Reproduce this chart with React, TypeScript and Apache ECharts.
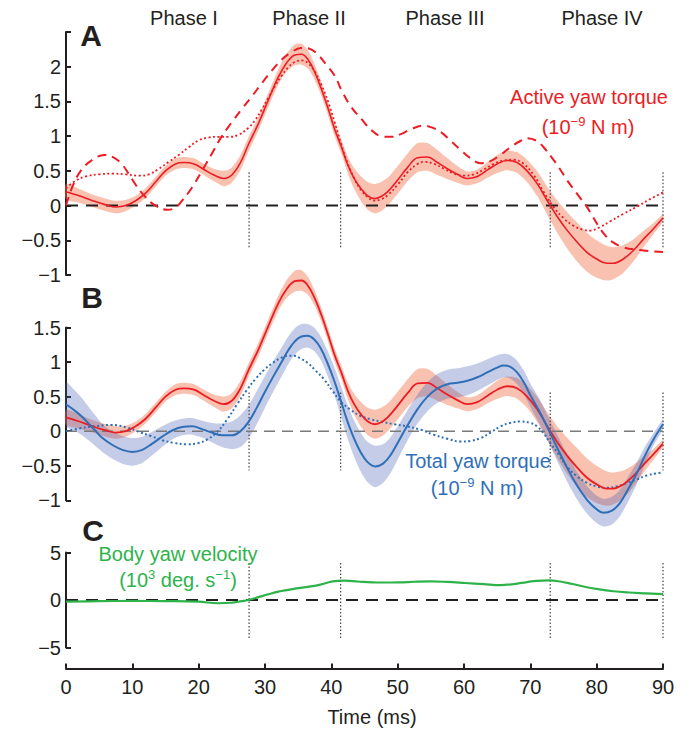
import React, { useEffect, useRef } from "react";
import * as echarts from "echarts";

// ---------- data ----------
const timeTicks = [0, 10, 20, 30, 40, 50, 60, 70, 80, 90];
const phaseLabels = ["Phase I", "Phase II", "Phase III", "Phase IV"];
const phaseBounds = [27.6, 41.4, 73.0, 90.0];
const guideA = [0.48, -0.62];
const guideB = [0.56, -0.57];
const guideC = [3.9, -4.1];

// Active yaw torque: mean (solid) and its spread (shaded band)
const activeT = [0, 2, 4, 6, 7.5, 9, 10.5, 12, 13.5, 15, 16.5, 17.8, 19.3, 20.8, 22.3, 23.8, 25, 26.3, 27.5, 29, 30.5, 32, 33.3, 34.5, 35.5, 36.5, 37.5, 38.5, 39.5, 40.5, 41.5, 42.5, 43.5, 44.5, 45.5, 46.5, 47.5, 48.5, 50, 51.5, 53, 54.5, 56, 57.5, 59, 60.5, 62, 63.5, 65, 66.5, 68, 69.5, 71, 72.5, 74, 75.5, 77, 78.5, 80, 81.5, 82.5, 84, 85.5, 87, 88.5, 90];
const activeMean = [0.2, 0.14, 0.07, 0.01, -0.02, 0.0, 0.07, 0.18, 0.34, 0.5, 0.6, 0.62, 0.6, 0.52, 0.44, 0.39, 0.44, 0.62, 0.88, 1.18, 1.52, 1.85, 2.06, 2.17, 2.18, 2.1, 1.92, 1.68, 1.4, 1.1, 0.85, 0.58, 0.38, 0.24, 0.14, 0.1, 0.13, 0.2, 0.37, 0.55, 0.69, 0.7, 0.62, 0.53, 0.45, 0.39, 0.42, 0.51, 0.6, 0.65, 0.62, 0.5, 0.32, 0.08, -0.15, -0.35, -0.52, -0.67, -0.77, -0.83, -0.83, -0.77, -0.65, -0.49, -0.34, -0.18];
const activeSd = [0.11, 0.1, 0.09, 0.09, 0.09, 0.08, 0.07, 0.07, 0.07, 0.07, 0.08, 0.08, 0.08, 0.08, 0.09, 0.11, 0.11, 0.11, 0.1, 0.1, 0.1, 0.11, 0.13, 0.15, 0.15, 0.13, 0.11, 0.1, 0.1, 0.1, 0.1, 0.12, 0.15, 0.18, 0.2, 0.21, 0.21, 0.2, 0.2, 0.2, 0.21, 0.2, 0.18, 0.15, 0.12, 0.1, 0.1, 0.11, 0.13, 0.14, 0.15, 0.16, 0.18, 0.2, 0.23, 0.26, 0.28, 0.28, 0.27, 0.25, 0.23, 0.2, 0.16, 0.12, 0.08, 0.05];

// Active yaw torque, dashed curve
const activeDashT = [0, 1, 2.3, 4, 5.8, 7, 8.3, 9.5, 10.5, 12, 13.5, 15.3, 16.5, 17.5, 19, 20.5, 22, 23.5, 25, 26.5, 28, 29.5, 31, 32.5, 34, 35.4, 36.7, 38, 39.3, 40.5, 41.7, 43, 44.5, 46, 47.5, 49, 50.5, 52, 53.8, 55, 56.5, 58, 59.5, 61, 62.5, 64, 65.5, 67, 68.5, 69.5, 71, 72, 73.1, 74.3, 75.5, 76.5, 77.5, 78.4, 79.3, 80.3, 81.3, 82.3, 84, 86.5, 90];
const activeDash = [0.0, 0.28, 0.51, 0.66, 0.73, 0.7, 0.61, 0.45, 0.3, 0.12, 0.0, -0.06, -0.03, 0.07, 0.26, 0.5, 0.75, 1.0, 1.2, 1.39, 1.57, 1.76, 1.94, 2.1, 2.21, 2.27, 2.26, 2.17, 2.02, 1.87, 1.63, 1.42, 1.25, 1.09, 1.0, 0.99, 1.03, 1.1, 1.15, 1.13, 1.06, 0.93, 0.8, 0.68, 0.61, 0.64, 0.73, 0.84, 0.93, 0.97, 0.93, 0.84, 0.71, 0.55, 0.37, 0.24, 0.11, 0.0, -0.14, -0.3, -0.43, -0.52, -0.6, -0.64, -0.67];

// Active yaw torque, dotted curve
const activeDotT = [0, 1.5, 3, 5, 7, 9, 11, 12.5, 14, 15.5, 17, 18.5, 20, 21.5, 23, 24.5, 26, 27.5, 28.5, 29.5, 30.5, 31.5, 32.5, 33.5, 34.5, 35.5, 36.5, 37.5, 38.5, 39.5, 40.5, 41.5, 42.5, 43.5, 44.5, 45.5, 46.5, 47.5, 48.5, 50, 51.5, 53, 54, 55.5, 57, 58.5, 60, 61.5, 63, 64.5, 66, 67.5, 69, 70.5, 72, 73.5, 75, 76.5, 78, 79, 80.5, 82, 84, 86, 88, 90];
const activeDot = [0.25, 0.36, 0.42, 0.45, 0.46, 0.45, 0.43, 0.45, 0.53, 0.63, 0.73, 0.84, 0.94, 0.98, 0.99, 0.99, 1.02, 1.12, 1.23, 1.38, 1.55, 1.72, 1.87, 1.99, 2.07, 2.09, 2.05, 1.93, 1.74, 1.5, 1.2, 0.88, 0.6, 0.38, 0.22, 0.12, 0.07, 0.09, 0.15, 0.3, 0.48, 0.6, 0.63, 0.6, 0.53, 0.46, 0.43, 0.45, 0.52, 0.6, 0.65, 0.66, 0.6, 0.44, 0.2, -0.02, -0.18, -0.29, -0.35, -0.36, -0.31, -0.23, -0.12, -0.02, 0.09, 0.19];

// Total yaw torque: mean (solid) and spread (band)
const totalT = [0, 1, 2.3, 3.5, 4.5, 5.5, 7, 8.5, 10, 11.5, 13, 14.5, 16, 17.5, 19, 20.5, 22, 23.5, 25, 26.3, 27.5, 28.7, 30, 31.3, 32.5, 33.5, 34.5, 35.5, 36.4, 37.4, 38.4, 39.4, 40.4, 41.4, 42.4, 43.4, 44.4, 45.4, 46.6, 47.8, 48.9, 50, 51.4, 53, 54.5, 56, 57.5, 59, 60.5, 62, 63.5, 65, 66, 67, 68, 69, 70, 71.3, 72.5, 74, 75.5, 77, 78.6, 80, 81, 82.3, 83.5, 84.8, 86, 87.3, 88.5, 90];
const totalMean = [0.39, 0.32, 0.22, 0.1, 0.0, -0.1, -0.2, -0.27, -0.3, -0.27, -0.18, -0.08, 0.01, 0.06, 0.07, 0.03, -0.02, -0.06, -0.06, 0.0, 0.13, 0.33, 0.57, 0.8, 1.0, 1.17, 1.3, 1.37, 1.38, 1.33, 1.2, 0.99, 0.74, 0.45, 0.15, -0.1, -0.3, -0.44, -0.51, -0.47, -0.35, -0.17, 0.07, 0.32, 0.5, 0.62, 0.68, 0.7, 0.73, 0.78, 0.85, 0.92, 0.95, 0.93, 0.85, 0.71, 0.52, 0.3, 0.07, -0.23, -0.52, -0.78, -1.0, -1.13, -1.18, -1.15, -1.04, -0.83, -0.62, -0.35, -0.13, 0.1];
const totalSd = [0.32, 0.3, 0.27, 0.24, 0.22, 0.2, 0.2, 0.2, 0.2, 0.19, 0.17, 0.15, 0.13, 0.12, 0.12, 0.12, 0.14, 0.17, 0.2, 0.23, 0.24, 0.24, 0.23, 0.22, 0.21, 0.2, 0.19, 0.18, 0.17, 0.17, 0.17, 0.18, 0.2, 0.22, 0.24, 0.26, 0.28, 0.29, 0.3, 0.28, 0.26, 0.24, 0.22, 0.21, 0.21, 0.21, 0.21, 0.21, 0.21, 0.2, 0.19, 0.18, 0.17, 0.17, 0.17, 0.17, 0.17, 0.18, 0.18, 0.19, 0.2, 0.2, 0.2, 0.2, 0.2, 0.2, 0.19, 0.18, 0.16, 0.13, 0.09, 0.06];

// Total yaw torque, dotted curve
const totalDotT = [0, 2, 4.3, 6.8, 9.3, 11, 12.8, 14.5, 16.3, 18.3, 20, 21.3, 22.8, 24.3, 25.8, 27.3, 28.6, 29.9, 31.2, 32.4, 33.4, 34.4, 35.4, 36.4, 37.6, 38.9, 40.2, 41.4, 42.9, 44.4, 46, 47.4, 49.5, 51.4, 53.5, 55.4, 57.5, 59.5, 61, 62.5, 64, 65.5, 67, 68.5, 70, 71, 72, 73, 74.3, 75.5, 77, 78.6, 80, 81.6, 83, 84.6, 86, 87.6, 89, 90];
const totalDot = [0.0, 0.04, 0.07, 0.09, 0.05, -0.01, -0.07, -0.13, -0.17, -0.19, -0.17, -0.12, -0.01, 0.17, 0.39, 0.6, 0.76, 0.89, 0.99, 1.06, 1.09, 1.09, 1.05, 0.99, 0.88, 0.75, 0.58, 0.43, 0.31, 0.22, 0.17, 0.14, 0.1, 0.07, 0.02, -0.05, -0.11, -0.15, -0.14, -0.1, -0.02, 0.07, 0.12, 0.14, 0.12, 0.07, -0.03, -0.17, -0.34, -0.51, -0.65, -0.75, -0.8, -0.82, -0.8, -0.75, -0.7, -0.64, -0.61, -0.6];

// Body yaw velocity
const bodyT = [0, 5, 10, 15, 20, 22.9, 24.9, 26.5, 27.5, 29, 30.5, 32, 33.5, 35, 36.9, 38.5, 40.2, 42, 44, 46.2, 48, 50.2, 52.5, 54.9, 57.5, 60.2, 63, 65.5, 67.5, 69.5, 71, 72.8, 74.5, 76.2, 78, 80.2, 82.5, 84.9, 87.5, 90];
const bodyVel = [-0.18, -0.12, -0.1, -0.12, -0.18, -0.34, -0.29, -0.12, 0.0, 0.3, 0.6, 0.88, 1.07, 1.25, 1.43, 1.65, 1.96, 2.04, 1.95, 1.86, 1.84, 1.86, 1.92, 1.96, 1.9, 1.79, 1.67, 1.57, 1.68, 1.89, 2.02, 2.07, 1.95, 1.71, 1.42, 1.14, 0.92, 0.79, 0.7, 0.61];

// ---------- styling ----------
const FONT = "'Liberation Sans', Arial, Helvetica, sans-serif";
const INK = "#231f20";
const RED = "#ed1c24";
const BLUE = "#2f6fb7";
const GREEN = "#2db34a";
const RED_BAND = "rgba(241,120,80,0.45)";
const BLUE_BAND = "rgba(60,85,180,0.30)";

const zip = (t: number[], v: number[]) => t.map((x, i) => [x, v[i]]);

const fmt = (hide?: number) => (v: number) =>
  v === hide ? "" : String(v).replace("-", "\u2212");

function band(t: number[], mean: number[], sd: number[], idx: number, color: string) {
  return {
    type: "custom",
    coordinateSystem: "cartesian2d",
    xAxisIndex: idx,
    yAxisIndex: idx,
    data: [[t[0], mean[0]]],
    silent: true,
    clip: false,
    z: 1,
    renderItem: (params: any, api: any) => {
      if (params.dataIndex !== 0) return null;
      const up = t.map((x, i) => api.coord([x, mean[i] + sd[i]]));
      const lo = t.map((x, i) => api.coord([x, mean[i] - sd[i]])).reverse();
      return {
        type: "polygon",
        shape: { points: up.concat(lo), smooth: 0.25 },
        style: { fill: color, stroke: "none" },
      };
    },
  };
}

function curve(t: number[], v: number[], idx: number, color: string, width: number, type: any) {
  return {
    type: "line",
    xAxisIndex: idx,
    yAxisIndex: idx,
    data: zip(t, v),
    symbol: "none",
    smooth: 0.4,
    silent: true,
    clip: false,
    lineStyle: { color, width, type, cap: "butt" },
    z: 4,
  };
}

function zeroLine(idx: number, color: string, width: number, dash: number[]) {
  return {
    type: "line",
    xAxisIndex: idx,
    yAxisIndex: idx,
    data: [[0, 0], [90, 0]],
    symbol: "none",
    silent: true,
    lineStyle: { color, width, type: dash },
    z: 3,
  };
}

function guides(idx: number, ext: number[]) {
  return phaseBounds.map((b) => ({
    type: "line",
    xAxisIndex: idx,
    yAxisIndex: idx,
    data: [[b, ext[0]], [b, ext[1]]],
    symbol: "none",
    silent: true,
    lineStyle: { color: "#444", width: 1.2, type: [1.5, 2] },
    z: 2,
  }));
}

function yAxis(idx: number, min: number, max: number, interval: number, hide?: number) {
  return {
    gridIndex: idx,
    type: "value",
    min,
    max,
    interval,
    axisLine: { show: true, onZero: false, lineStyle: { color: INK, width: 2 } },
    axisTick: { show: true, inside: true, length: 5, lineStyle: { color: INK, width: 2 } },
    axisLabel: { formatter: fmt(hide), fontSize: 20, color: INK, margin: 5, fontFamily: FONT },
    splitLine: { show: false },
  };
}

const richUnits = {
  a: { fontSize: 20, lineHeight: 24, fontFamily: FONT },
  s: { fontSize: 13, lineHeight: 14, verticalAlign: "top", fontFamily: FONT },
};

function txt(x: number, y: number, text: string, color: string, size = 20, weight = "normal", rich?: any) {
  return {
    type: "text",
    x,
    y,
    silent: true,
    z: 10,
    style: {
      text,
      fill: color,
      fontSize: size,
      fontWeight: weight,
      fontFamily: FONT,
      align: "center",
      verticalAlign: "middle",
      ...(rich ? { rich } : {}),
    },
  };
}

const phaseX = [184, 309, 445, 602];

export default function App() {
  const ref = useRef<HTMLDivElement>(null);
  useEffect(() => {
    if (!ref.current) return;
    const chart = echarts.init(ref.current, undefined, { renderer: "svg" });
    const option: any = {
      animation: false,
      backgroundColor: "#ffffff",
      grid: [
        { left: 66, width: 597, top: 32, height: 243 },
        { left: 66, width: 597, top: 327.5, height: 172.8 },
        { left: 66, width: 597, top: 552.5, height: 95 },
      ],
      xAxis: [
        { gridIndex: 0, type: "value", min: 0, max: 90, show: false },
        { gridIndex: 1, type: "value", min: 0, max: 90, show: false },
        {
          gridIndex: 2,
          type: "value",
          min: timeTicks[0],
          max: timeTicks[timeTicks.length - 1],
          interval: 10,
          offset: 21,
          axisLine: { show: true, onZero: false, lineStyle: { color: INK, width: 2 } },
          axisTick: { show: true, inside: true, length: 5, lineStyle: { color: INK, width: 2 } },
          axisLabel: { fontSize: 20, color: INK, margin: 8, fontFamily: FONT },
          splitLine: { show: false },
        },
      ],
      yAxis: [
        yAxis(0, -1, 2.5, 0.5, 2.5),
        yAxis(1, -1, 1.5, 0.5),
        yAxis(2, -5, 5, 5),
      ],
      series: [
        band(activeT, activeMean, activeSd, 0, RED_BAND),
        band(activeT, activeMean, activeSd, 1, RED_BAND),
        band(totalT, totalMean, totalSd, 1, BLUE_BAND),
        zeroLine(0, INK, 2, [12, 8]),
        zeroLine(1, "#7a7a7a", 1.6, [11, 7]),
        zeroLine(2, INK, 2, [12, 8]),
        ...guides(0, guideA),
        ...guides(1, guideB),
        ...guides(2, guideC),
        curve(activeDashT, activeDash, 0, RED, 2, [9, 6]),
        curve(activeDotT, activeDot, 0, RED, 1.8, [2, 2.5]),
        curve(activeT, activeMean, 0, RED, 1.6, "solid"),
        curve(totalDotT, totalDot, 1, BLUE, 2, [2, 2.5]),
        curve(activeT, activeMean, 1, RED, 1.8, "solid"),
        curve(totalT, totalMean, 1, BLUE, 2, "solid"),
        curve(bodyT, bodyVel, 2, GREEN, 2.2, "solid"),
      ],
      graphic: [
        ...phaseLabels.map((p, i) => txt(phaseX[i], 18, p, INK, 20)),
        txt(91, 35, "A", INK, 30, "bold"),
        txt(92, 297, "B", INK, 30, "bold"),
        txt(93, 530, "C", INK, 30, "bold"),
        txt(589, 97, "Active yaw torque", RED, 20),
        txt(588, 127, "{a|(10}{s|\u22129}{a| N m)}", RED, 20, "normal", richUnits),
        txt(478, 461, "Total yaw torque", BLUE, 20),
        txt(477, 488, "{a|(10}{s|\u22129}{a| N m)}", BLUE, 20, "normal", richUnits),
        txt(178, 554, "Body yaw velocity", GREEN, 20),
        txt(178, 580, "{a|(10}{s|3}{a| deg. s}{s|\u22121}{a|)}", GREEN, 20, "normal", richUnits),
        txt(372, 717, "Time (ms)", INK, 20),
      ],
    };
    chart.setOption(option);
    return () => chart.dispose();
  }, []);
  return (
    <div
      ref={ref}
      style={{ position: "absolute", left: 0, top: 0, width: 694, height: 730, background: "#fff" }}
    />
  );
}
